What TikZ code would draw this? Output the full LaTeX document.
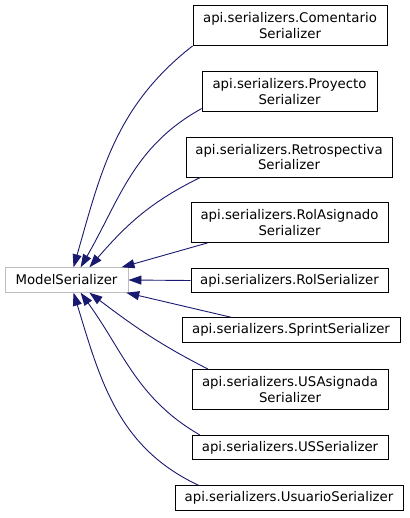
\documentclass[tikz,border=0pt]{standalone}
\usepackage{fontspec}
\setmainfont{DejaVu Sans}
\usetikzlibrary{arrows.meta}
\definecolor{edgeblue}{HTML}{191970}

\begin{document}
\begin{tikzpicture}[
    x=1pt, y=1pt,
    cls/.style={draw=black, line width=0.9pt, fill=white, inner sep=0pt, minimum height=24.5pt, align=center, font=\fontsize{13.3}{15.5}\selectfont},
    cls2/.style={cls, minimum height=40pt},
    base/.style={cls, draw=black!25},
    inh/.style={edgeblue, line width=0.9pt, -{Triangle[length=13pt, width=9pt]}}
]
\useasboundingbox (0,0) rectangle (409,-518);
\node[base, minimum width=123pt] (ms) at (66.5,-280) {ModelSerializer};
\node[cls2, minimum width=194pt] (com) at (290,-25.5) {api.serializers.Comentario\\Serializer};
\node[cls2, minimum width=175pt] (pro) at (289.5,-91.5) {api.serializers.Proyecto\\Serializer};
\node[cls2, minimum width=206pt] (retro) at (289,-157) {api.serializers.Retrospectiva\\Serializer};
\node[cls2, minimum width=197pt] (ra) at (289.5,-222.5) {api.serializers.RolAsignado\\Serializer};
\node[cls, minimum width=197pt] (rol) at (289.5,-280.5) {api.serializers.RolSerializer};
\node[cls, minimum width=218pt] (spr) at (291,-330) {api.serializers.SprintSerializer};
\node[cls2, minimum width=196pt] (usa) at (290,-389.5) {api.serializers.USAsignada\\Serializer};
\node[cls, minimum width=196pt] (us) at (290,-447.5) {api.serializers.USSerializer};
\node[cls, minimum width=228pt] (usu) at (289,-498) {api.serializers.UsuarioSerializer};

\draw[inh] (com.south west) to[out=218, in=74] (ms.61);
\draw[inh] (pro.191) to[out=209, in=60] (ms.42);
\draw[inh] (retro.193) to[out=206, in=49] (ms.29);
\draw[inh] (ra.194) -- (ms.13);
\draw[inh] (rol.west) -- (ms.east);
\draw[inh] (spr.168) -- (ms.-12);
\draw[inh] (usa.166) to[out=153, in=-37] (ms.-29);
\draw[inh] (us.172) to[out=150, in=-54] (ms.-42);
\draw[inh] (usu.172) to[out=155, in=-73] (ms.-61);
\end{tikzpicture}
\end{document}
